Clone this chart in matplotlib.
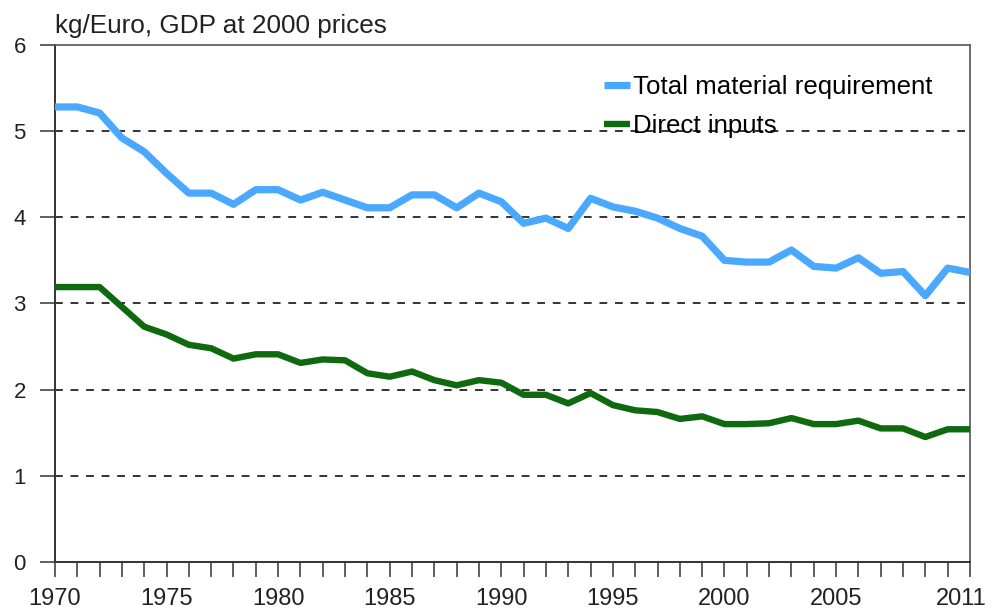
import matplotlib
matplotlib.use("Agg")
import matplotlib.pyplot as plt
import matplotlib.transforms as mtransforms
import numpy as np

years = list(range(1970, 2012))
total_material = [5.28, 5.28, 5.21, 4.92, 4.76, 4.51, 4.28, 4.28, 4.15, 4.32,
                  4.32, 4.20, 4.29, 4.20, 4.11, 4.11, 4.26, 4.26, 4.11, 4.28,
                  4.18, 3.93, 3.99, 3.87, 4.22, 4.12, 4.07, 3.99, 3.87, 3.78,
                  3.50, 3.48, 3.48, 3.62, 3.43, 3.41, 3.53, 3.35, 3.37, 3.09,
                  3.41, 3.36]
direct_inputs = [3.19, 3.19, 3.19, 2.96, 2.73, 2.64, 2.52, 2.48, 2.36, 2.41,
                 2.41, 2.31, 2.35, 2.34, 2.19, 2.15, 2.21, 2.11, 2.05, 2.11,
                 2.08, 1.94, 1.94, 1.84, 1.96, 1.82, 1.76, 1.74, 1.66, 1.69,
                 1.60, 1.60, 1.61, 1.67, 1.60, 1.60, 1.64, 1.55, 1.55, 1.45,
                 1.54, 1.54]
xtick_labels = [1970, 1975, 1980, 1985, 1990, 1995, 2000, 2005, 2011]
ytick_values = [0, 1, 2, 3, 4, 5, 6]
ylabel_text = "kg/Euro, GDP at 2000 prices"
series_names = ["Total material requirement", "Direct inputs"]

plt.rcParams['font.family'] = ['Liberation Sans', 'DejaVu Sans']

fig = plt.figure(figsize=(9.92, 6.15), dpi=100)
ax = fig.add_axes([0.0554, 0.0862, 0.9224, 0.8408])

ax.plot(years, total_material, color='#4aa8ff', lw=5.2, solid_capstyle='butt',
        solid_joinstyle='round', label=series_names[0], zorder=3)
ax.plot(years, direct_inputs, color='#0f6a0f', lw=4.6, solid_capstyle='butt',
        solid_joinstyle='round', label=series_names[1], zorder=3)

ax.set_xlim(1970, 2011)
ax.set_ylim(0, 6)
ax.set_yticks(ytick_values)
ax.set_yticklabels([str(v) for v in ytick_values], fontsize=16, color='#222222')
ax.set_xticks(years, minor=True)
ax.set_xticks(xtick_labels)
ax.set_xticklabels([str(v) for v in xtick_labels], fontsize=17, color='#222222')
ax.tick_params(axis='x', which='both', direction='out', length=11, width=1.2,
               color='#444444', pad=8)
ax.tick_params(axis='y', direction='out', length=11, width=1.2, color='#444444', pad=10)

# nudge the last label so it stays inside the figure
last = ax.get_xticklabels()[-1]
last.set_transform(last.get_transform() +
                   mtransforms.ScaledTranslation(-6 / 72, 0, fig.dpi_scale_trans))

for v in ytick_values[1:-1]:
    ax.axhline(v, color='#333333', lw=1.4, ls=(0, (4, 4)), zorder=1)

for s in ['left', 'bottom']:
    ax.spines[s].set_color('#333333')
    ax.spines[s].set_linewidth(1.4)
for s in ['top', 'right']:
    ax.spines[s].set_color('#555555')
    ax.spines[s].set_linewidth(1.2)

ax.text(0.0, 1.014, ylabel_text, transform=ax.transAxes, fontsize=18.8,
        ha='left', va='bottom', color='#222222')

leg = ax.legend(loc='upper right', bbox_to_anchor=(0.970, 0.962), frameon=False,
                fontsize=18.6, handlelength=1.0, handletextpad=0.12,
                labelspacing=0.6, borderaxespad=0)

fig.savefig('out.png', dpi=100)
